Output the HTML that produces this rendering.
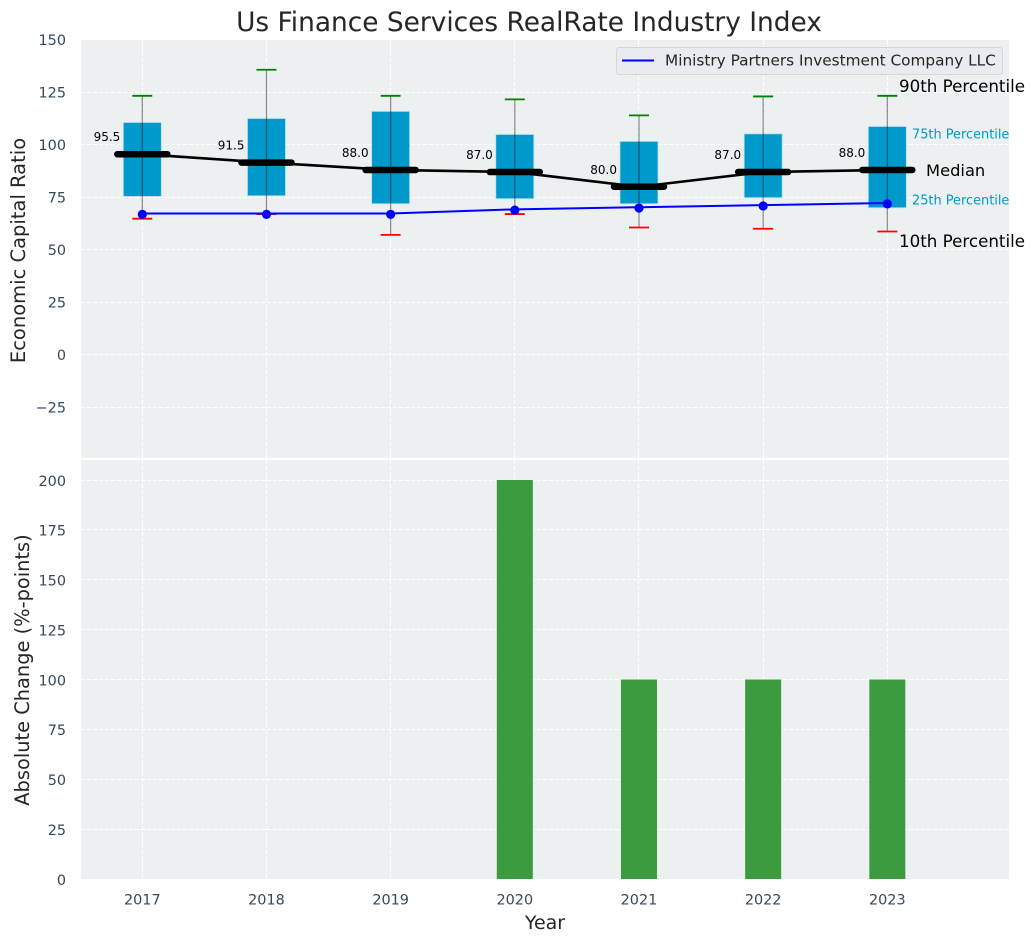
<!DOCTYPE html>
<html>
<head>
<meta charset="utf-8">
<title>Us Finance Services RealRate Industry Index</title>
<style>
html,body{margin:0;padding:0;background:#fff;width:1034px;height:942px;overflow:hidden}
svg{display:block}
text{font-family:"DejaVu Sans","Liberation Sans",sans-serif}
</style>
</head>
<body>
<svg id="chart" xmlns="http://www.w3.org/2000/svg" width="1034" height="942" viewBox="0 0 1034 942">
  <rect x="0" y="0" width="1034" height="942" fill="#ffffff"/>
  <rect x="81" y="40" width="928" height="418" fill="#ecf0f1"/>
  <rect x="81" y="460" width="928" height="419" fill="#ecf0f1"/>
  <g id="grid"></g>
  <g id="bars"></g>
  <g id="boxes"></g>
  <g id="lines"></g>
  <g id="labels"></g>
  <g id="ticks"></g>
  <text x="529" y="31" text-anchor="middle" font-size="26.4" fill="#262626">Us Finance Services RealRate Industry Index</text>
  <text transform="translate(25 250.5) rotate(-90)" text-anchor="middle" font-size="19.5" fill="#262626">Economic Capital Ratio</text>
  <text transform="translate(29 670) rotate(-90)" text-anchor="middle" font-size="19.4" fill="#262626">Absolute Change (%-points)</text>
  <text x="545" y="929" text-anchor="middle" font-size="19" fill="#262626">Year</text>
  <g>
    <rect x="616.5" y="47.5" width="386" height="27" rx="3" fill="#e9ebf0" stroke="#d4d6da" stroke-width="1"/>
    <line x1="622" y1="60.5" x2="654" y2="60.5" stroke="#0000ff" stroke-width="2"/>
    <text x="665" y="65.5" font-size="15.3" fill="#262626">Ministry Partners Investment Company LLC</text>
  </g>
</svg>
<script>
const years = [2017, 2018, 2019, 2020, 2021, 2022, 2023];
const p90 = [123.3, 135.7, 123.3, 121.6, 114, 123, 123.3];
const p75 = [110.6, 112.5, 115.9, 104.9, 101.6, 105.2, 108.7];
const median = [95.5, 91.5, 88, 87, 80, 87, 88];
const p25 = [75.4, 75.7, 71.9, 74.3, 71.9, 74.8, 70];
const p10 = [64.8, 67, 57.1, 67, 60.6, 60, 58.7];
const company = [67, 67, 67, 69, 70, 71, 72];
const change = [0, 0, 0, 200, 100, 100, 100];
const topTicks = [150, 125, 100, 75, 50, 25, 0, -25];
const bottomTicks = [200, 175, 150, 125, 100, 75, 50, 25, 0];

const NS = 'http://www.w3.org/2000/svg';
const x = function (yr) { return 142.3 + (yr - 2017) * 124.17; };
const yTop = function (v) { return 354.75 - v * 2.1; };
const yBot = function (v) { return 879 - v * 1.995; };
const snap = function (p) { return Math.floor(p) + 0.5; };

function mk(parent, tag, attrs, content) {
  const el = document.createElementNS(NS, tag);
  for (const k in attrs) el.setAttribute(k, attrs[k]);
  if (content !== undefined) el.textContent = content;
  document.getElementById(parent).appendChild(el);
  return el;
}

/* grid */
years.forEach(function (yr) {
  const a = mk('grid', 'line', {x1: snap(x(yr)), x2: snap(x(yr)), y1: 40, y2: 458, stroke: '#fff', 'stroke-width': 1, 'stroke-dasharray': '4 2'});
  
  
  const b = mk('grid', 'line', {x1: snap(x(yr)), x2: snap(x(yr)), y1: 460, y2: 879, stroke: '#fff', 'stroke-width': 1, 'stroke-dasharray': '4 2'});
  
  
  const t = mk('ticks', 'text', {x: x(yr), y: 904.5, 'text-anchor': 'middle', 'font-size': 14.4, fill: '#34495e'}, String(yr));
  
  
});
topTicks.forEach(function (v) {
  const g = mk('grid', 'line', {x1: 81, x2: 1009, y1: snap(yTop(v)), y2: snap(yTop(v)), stroke: '#fff', 'stroke-width': 1, 'stroke-dasharray': '4 2'});
  
  
  const t = mk('ticks', 'text', {x: 66, y: yTop(v) + 5.3, 'text-anchor': 'end', 'font-size': 14.4, fill: '#34495e'}, v < 0 ? '\u2212' + Math.abs(v) : String(v));
  
  
});
bottomTicks.forEach(function (v) {
  const g = mk('grid', 'line', {x1: 81, x2: 1009, y1: snap(yBot(v)), y2: snap(yBot(v)), stroke: '#fff', 'stroke-width': 1, 'stroke-dasharray': '4 2'});
  
  
  const t = mk('ticks', 'text', {x: 66, y: yBot(v) + 5.8, 'text-anchor': 'end', 'font-size': 14.4, fill: '#34495e'}, String(v));
  
  
});

/* bars */
years.forEach(function (yr, i) {
  if (change[i] <= 0) return;
  const b = mk('bars', 'rect', {x: x(yr) - 18, y: yBot(change[i]), width: 36, height: yBot(0) - yBot(change[i]), fill: '#3c9b3f'});
  
  
});

/* boxes and whiskers */
years.forEach(function (yr, i) {
  const cx = x(yr);
  const box = mk('boxes', 'rect', {x: cx - 19, y: yTop(p75[i]), width: 38, height: yTop(p25[i]) - yTop(p75[i]), fill: '#0099cc', stroke: '#b9dfec', 'stroke-width': 0.8});
  
  
  const w = mk('boxes', 'line', {x1: cx, x2: cx, y1: yTop(p90[i]), y2: yTop(p10[i]), stroke: '#000', 'stroke-opacity': 0.45, 'stroke-width': 1.2});
  
  
  const hi = mk('boxes', 'line', {x1: cx - 10, x2: cx + 10, y1: yTop(p90[i]), y2: yTop(p90[i]), stroke: '#008000', 'stroke-width': 1.8});
  
  
  const lo = mk('boxes', 'line', {x1: cx - 10, x2: cx + 10, y1: yTop(p10[i]), y2: yTop(p10[i]), stroke: '#ff0000', 'stroke-width': 1.8});
  
  
});

/* median line and thick markers */
const medPts = years.map(function (yr, i) { return x(yr) + ',' + yTop(median[i]); }).join(' ');
const medLine = mk('lines', 'polyline', {points: medPts, fill: 'none', stroke: '#000', 'stroke-width': 2.6});


years.forEach(function (yr, i) {
  const m = mk('lines', 'line', {x1: x(yr) - 25, x2: x(yr) + 25, y1: yTop(median[i]), y2: yTop(median[i]), stroke: '#000', 'stroke-width': 6.5, 'stroke-linecap': 'round'});
  
  
  const l = mk('labels', 'text', {x: x(yr) - 22, y: yTop(median[i]) - 13, 'text-anchor': 'end', 'font-size': 12, fill: '#000'}, median[i].toFixed(1));
  
  
});

/* company line */
const coPts = years.map(function (yr, i) { return x(yr) + ',' + (yTop(company[i]) - 0.5); }).join(' ');
const coLine = mk('lines', 'polyline', {points: coPts, fill: 'none', stroke: '#0000ff', 'stroke-width': 2});


years.forEach(function (yr, i) {
  const c = mk('lines', 'circle', {cx: x(yr), cy: yTop(company[i]) + 0.3, r: 4.6, fill: '#0000ff'});
  
  
});

/* percentile annotations anchored on the last year */
const last = years.length - 1;
const ax = x(years[last]);
const a90 = mk('labels', 'text', {x: ax + 11.7, y: yTop(p90[last]) - 4, 'font-size': 16.7, fill: '#000'}, '90th Percentile');


const a75 = mk('labels', 'text', {x: ax + 24.7, y: yTop(p75[last]) + 11.8, 'font-size': 12.9, fill: '#0099cc'}, '75th Percentile');


const aMed = mk('labels', 'text', {x: ax + 38.7, y: yTop(median[last]) + 6, 'font-size': 16.3, fill: '#000'}, 'Median');


const a25 = mk('labels', 'text', {x: ax + 24.7, y: yTop(p25[last]) - 3.2, 'font-size': 12.9, fill: '#0099cc'}, '25th Percentile');


const a10 = mk('labels', 'text', {x: ax + 11.7, y: yTop(p10[last]) + 15.3, 'font-size': 16.7, fill: '#000'}, '10th Percentile');


</script>
</body>
</html>
